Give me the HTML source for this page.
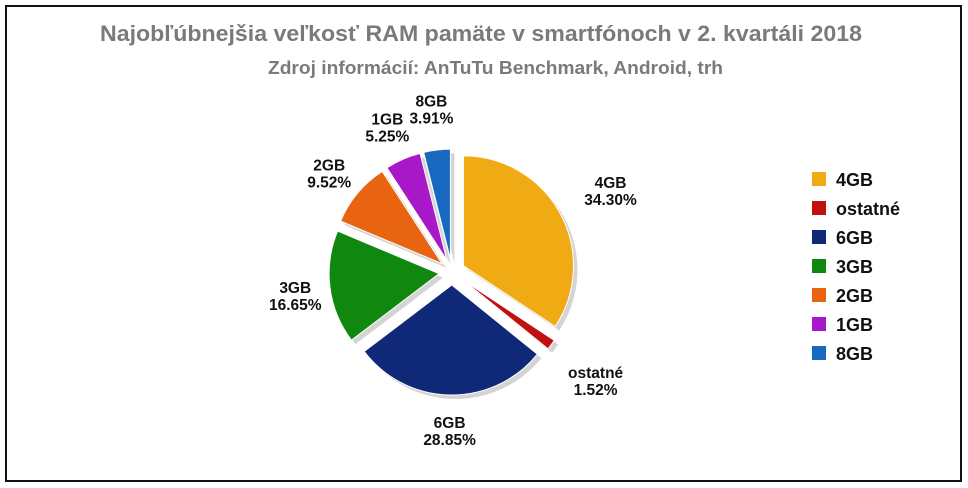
<!DOCTYPE html>
<html><head><meta charset="utf-8"><style>
html,body{margin:0;padding:0;background:#fff;}
svg{display:block;font-family:"Liberation Sans",sans-serif;}
</style></head><body>
<svg width="968" height="488" viewBox="0 0 968 488">
<rect x="6" y="6" width="955" height="475" fill="#fff" stroke="#111" stroke-width="2"/>
<text x="100" y="41" textLength="762" lengthAdjust="spacingAndGlyphs" font-size="22" font-weight="bold" fill="#7a7a7a">Najobľúbnejšia veľkosť RAM pamäte v smartfónoch v 2. kvartáli 2018</text>
<text x="268" y="74" textLength="455" lengthAdjust="spacingAndGlyphs" font-size="18" font-weight="bold" fill="#7a7a7a">Zdroj informácií: AnTuTu Benchmark, Android, trh</text>
<g id="pie"></g>
<g id="labels"></g>
<g id="legend"></g>
</svg>
<script>
const categories = ["4GB","ostatné","6GB","3GB","2GB","1GB","8GB"];
const values = [34.30,1.52,28.85,16.65,9.52,5.25,3.91];
const colors = ["#f0aa14","#c01010","#102878","#108810","#e86410","#a818c8","#1868c0"];
const cx=452, cy=272, r=110, off=13;
const NS="http://www.w3.org/2000/svg";
const pie=document.getElementById('pie'), labels=document.getElementById('labels'), legend=document.getElementById('legend');
const total=values.reduce((a,b)=>a+b,0);
function pt(a,rad,ox,oy){return [ox+rad*Math.sin(a), oy-rad*Math.cos(a)];}
let start=0;
const labelR=[180,178,155,158,160,162,168];
values.forEach((v,i)=>{
  const sweep=v/total*2*Math.PI, end=start+sweep, mid=start+sweep/2;
  const ox=cx+off*Math.sin(mid), oy=cy-off*Math.cos(mid);
  const p1=pt(start,r,ox,oy), p2=pt(end,r,ox,oy);
  const large=sweep>Math.PI?1:0;
  const d=`M${ox},${oy} L${p1[0]},${p1[1]} A${r},${r} 0 ${large} 1 ${p2[0]},${p2[1]} Z`;
  const sh=document.createElementNS(NS,'path');
  sh.setAttribute('d',d);sh.setAttribute('fill','#d4d4d4');sh.setAttribute('transform','translate(4,4)');
  
  
  pie.appendChild(sh);
  const p=document.createElementNS(NS,'path');
  p.setAttribute('d',d);p.setAttribute('fill',colors[i]);p.setAttribute('stroke','#fff');p.setAttribute('stroke-width','1');
  
  
  pie.appendChild(p);
  const lp=pt(mid,labelR[i],cx,cy+5);
  const t=document.createElementNS(NS,'text');
  t.setAttribute('x',lp[0]);t.setAttribute('y',lp[1]-4);t.setAttribute('text-anchor','middle');
  t.setAttribute('font-size','15.5');t.setAttribute('font-weight','bold');t.setAttribute('fill','#111');
  
  
  const a=document.createElementNS(NS,'tspan');a.setAttribute('x',lp[0]);a.textContent=categories[i];
  const b=document.createElementNS(NS,'tspan');b.setAttribute('x',lp[0]);b.setAttribute('dy','17');b.textContent=v.toFixed(2)+'%';
  t.appendChild(a);t.appendChild(b);labels.appendChild(t);
  start=end;
});
categories.forEach((c,i)=>{
  const y=172+i*29;
  const g=document.createElementNS(NS,'g');
  
  
  const s=document.createElementNS(NS,'rect');
  s.setAttribute('x',812);s.setAttribute('y',y);s.setAttribute('width',14);s.setAttribute('height',14);s.setAttribute('fill',colors[i]);
  
  
  const t=document.createElementNS(NS,'text');
  t.setAttribute('x',836);t.setAttribute('y',y+14);t.setAttribute('font-size','18');t.setAttribute('font-weight','bold');t.setAttribute('fill','#111');
  t.textContent=c;
  
  
  g.appendChild(s);g.appendChild(t);legend.appendChild(g);
});
</script>
</body></html>
